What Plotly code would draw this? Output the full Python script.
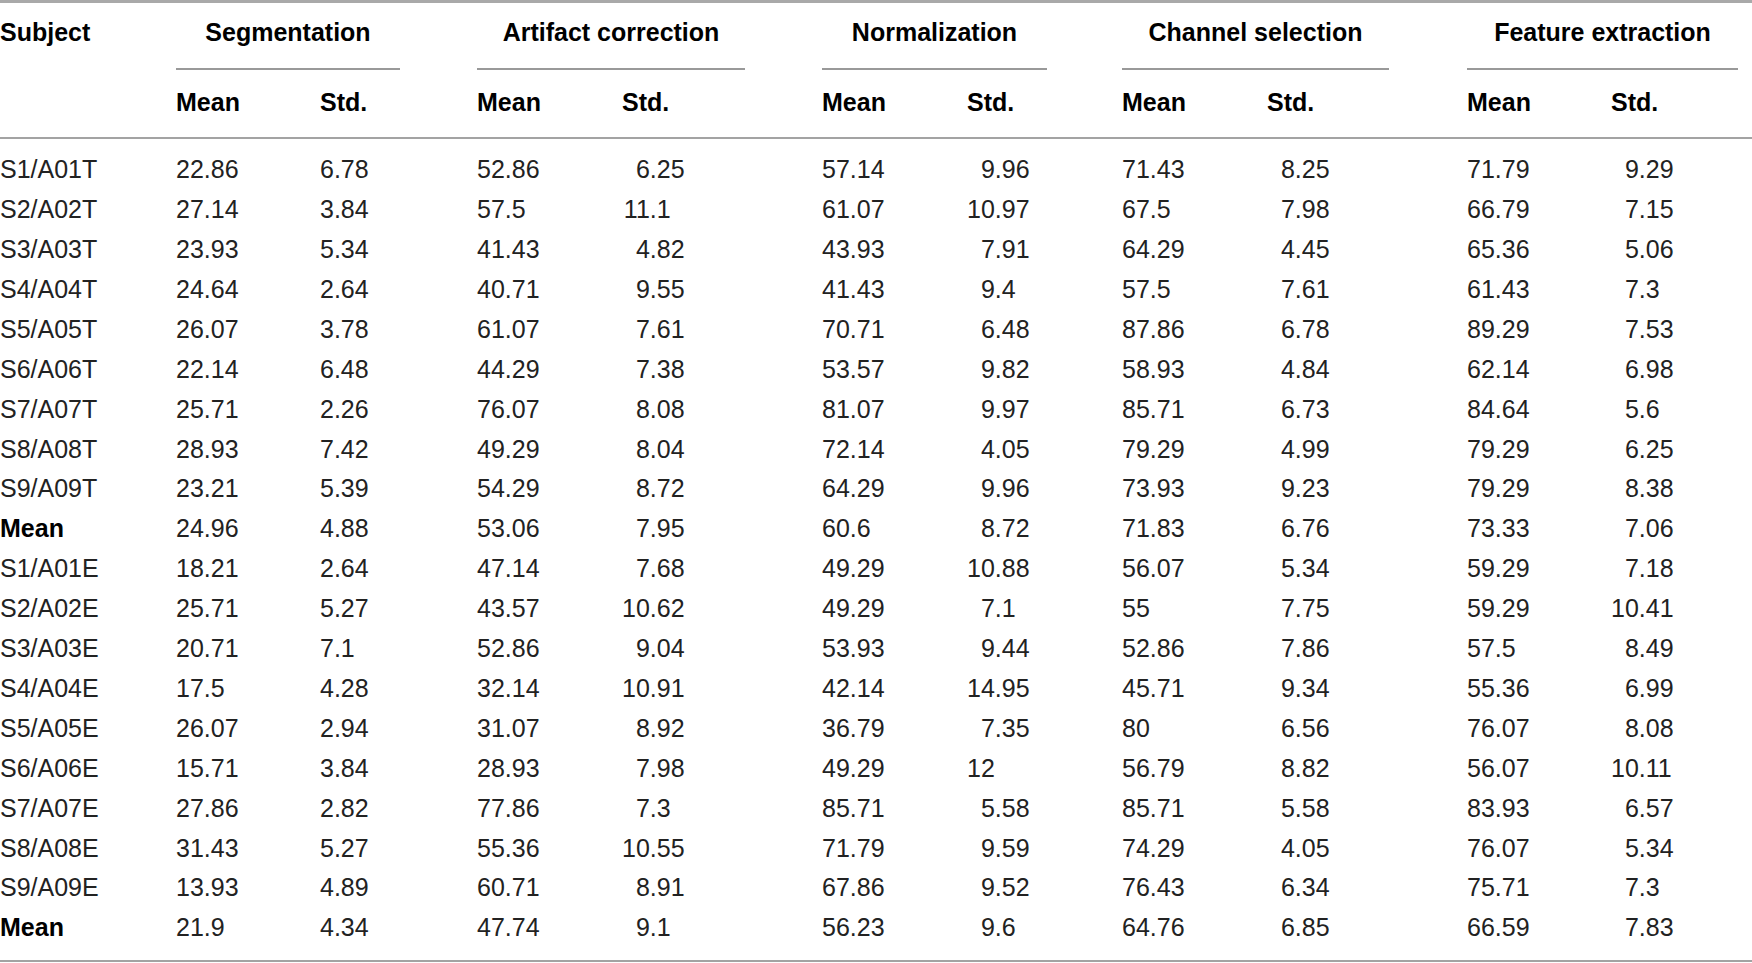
import plotly.graph_objects as go

# ---------------- data ----------------
subjects = ["S1/A01T", "S2/A02T", "S3/A03T", "S4/A04T", "S5/A05T", "S6/A06T",
            "S7/A07T", "S8/A08T", "S9/A09T", "Mean",
            "S1/A01E", "S2/A02E", "S3/A03E", "S4/A04E", "S5/A05E", "S6/A06E",
            "S7/A07E", "S8/A08E", "S9/A09E", "Mean"]
groups = ["Segmentation", "Artifact correction", "Normalization",
          "Channel selection", "Feature extraction"]
sub_headers = ["Mean", "Std."]

seg_mean = [22.86, 27.14, 23.93, 24.64, 26.07, 22.14, 25.71, 28.93, 23.21, 24.96,
            18.21, 25.71, 20.71, 17.5, 26.07, 15.71, 27.86, 31.43, 13.93, 21.9]
seg_std = [6.78, 3.84, 5.34, 2.64, 3.78, 6.48, 2.26, 7.42, 5.39, 4.88,
           2.64, 5.27, 7.1, 4.28, 2.94, 3.84, 2.82, 5.27, 4.89, 4.34]
art_mean = [52.86, 57.5, 41.43, 40.71, 61.07, 44.29, 76.07, 49.29, 54.29, 53.06,
            47.14, 43.57, 52.86, 32.14, 31.07, 28.93, 77.86, 55.36, 60.71, 47.74]
art_std = [6.25, 11.1, 4.82, 9.55, 7.61, 7.38, 8.08, 8.04, 8.72, 7.95,
           7.68, 10.62, 9.04, 10.91, 8.92, 7.98, 7.3, 10.55, 8.91, 9.1]
norm_mean = [57.14, 61.07, 43.93, 41.43, 70.71, 53.57, 81.07, 72.14, 64.29, 60.6,
             49.29, 49.29, 53.93, 42.14, 36.79, 49.29, 85.71, 71.79, 67.86, 56.23]
norm_std = [9.96, 10.97, 7.91, 9.4, 6.48, 9.82, 9.97, 4.05, 9.96, 8.72,
            10.88, 7.1, 9.44, 14.95, 7.35, 12, 5.58, 9.59, 9.52, 9.6]
chan_mean = [71.43, 67.5, 64.29, 57.5, 87.86, 58.93, 85.71, 79.29, 73.93, 71.83,
             56.07, 55, 52.86, 45.71, 80, 56.79, 85.71, 74.29, 76.43, 64.76]
chan_std = [8.25, 7.98, 4.45, 7.61, 6.78, 4.84, 6.73, 4.99, 9.23, 6.76,
            5.34, 7.75, 7.86, 9.34, 6.56, 8.82, 5.58, 4.05, 6.34, 6.85]
feat_mean = [71.79, 66.79, 65.36, 61.43, 89.29, 62.14, 84.64, 79.29, 79.29, 73.33,
             59.29, 59.29, 57.5, 55.36, 76.07, 56.07, 83.93, 76.07, 75.71, 66.59]
feat_std = [9.29, 7.15, 5.06, 7.3, 7.53, 6.98, 5.6, 6.25, 8.38, 7.06,
            7.18, 10.41, 8.49, 6.99, 8.08, 10.11, 6.57, 5.34, 7.3, 7.83]

# ---------------- layout (pixel canvas) ----------------
W, H = 1752, 963
FONT = "Liberation Sans, Arial, Helvetica, sans-serif"
FS = 25
DIGIT = 0.556 * FS          # tabular digit width
VSHIFT = 3                  # baseline correction for text-centre

row0, row_h = 169, 39.9
row_y = [row0 + i * row_h for i in range(len(subjects))]
head1_y, head2_y = 31.5, 102
mean_x = [176, 477, 822, 1122, 1467]
std_x = [320, 622, 967, 1267, 1611]
line_spans = [(176, 400), (477, 745), (822, 1047), (1122, 1389), (1467, 1738)]
decimal_std = [False, True, True, True, True]

means = [seg_mean, art_mean, norm_mean, chan_mean, feat_mean]
stds = [seg_std, art_std, norm_std, chan_std, feat_std]

def fmt(v):
    return f"{v:g}"

fig = go.Figure()

def add_text(xs, ys, texts, pos, bold=False, color="#222222"):
    fig.add_trace(go.Scatter(
        x=xs, y=[y + VSHIFT for y in ys], text=texts, mode="text",
        textposition=pos, hoverinfo="skip", showlegend=False,
        textfont=dict(family=FONT, size=FS, color=color,
                      weight="bold" if bold else "normal"),
        cliponaxis=False))

# subject column (bold "Mean" rows)
normal_idx = [i for i, s in enumerate(subjects) if s != "Mean"]
bold_idx = [i for i, s in enumerate(subjects) if s == "Mean"]
add_text([0] * len(normal_idx), [row_y[i] for i in normal_idx],
         [subjects[i] for i in normal_idx], "middle right")
add_text([0] * len(bold_idx), [row_y[i] for i in bold_idx],
         [subjects[i] for i in bold_idx], "middle right", bold=True, color="#000")

# headers
add_text([0], [head1_y], ["Subject"], "middle right", bold=True, color="#000")
add_text([(a + b) / 2 for a, b in line_spans], [head1_y] * len(groups), groups,
         "middle center", bold=True, color="#000")
add_text(mean_x + std_x, [head2_y] * 10,
         [sub_headers[0]] * 5 + [sub_headers[1]] * 5, "middle right",
         bold=True, color="#000")

# values
for k in range(5):
    add_text([mean_x[k]] * len(row_y), row_y, [fmt(v) for v in means[k]],
             "middle right")
    if decimal_std[k]:
        dx = std_x[k] + 2 * DIGIT
        parts = [fmt(v).split(".") for v in stds[k]]
        add_text([dx] * len(row_y), row_y, [p[0] for p in parts], "middle left")
        add_text([dx] * len(row_y), row_y,
                 ["." + p[1] if len(p) > 1 else "" for p in parts], "middle right")
    else:
        add_text([std_x[k]] * len(row_y), row_y, [fmt(v) for v in stds[k]],
                 "middle right")

shapes = [
    dict(type="line", x0=0, x1=W, y0=1.5, y1=1.5, line=dict(color="#a9a9a9", width=3)),
    dict(type="line", x0=0, x1=W, y0=138, y1=138, line=dict(color="#a3a3a3", width=2)),
    dict(type="line", x0=0, x1=W, y0=961, y1=961, line=dict(color="#a3a3a3", width=2)),
]
for a, b in line_spans:
    shapes.append(dict(type="line", x0=a, x1=b, y0=69, y1=69,
                       line=dict(color="#999999", width=2)))

fig.update_layout(
    width=W, height=H, margin=dict(l=0, r=0, t=0, b=0),
    paper_bgcolor="white", plot_bgcolor="white",
    xaxis=dict(range=[0, W], visible=False, fixedrange=True),
    yaxis=dict(range=[H, 0], visible=False, fixedrange=True),
    shapes=shapes, showlegend=False,
)

fig.write_html("out.html", config={"displayModeBar": False},
               post_script="document.body.style.margin='0';document.body.style.overflow='hidden';")
